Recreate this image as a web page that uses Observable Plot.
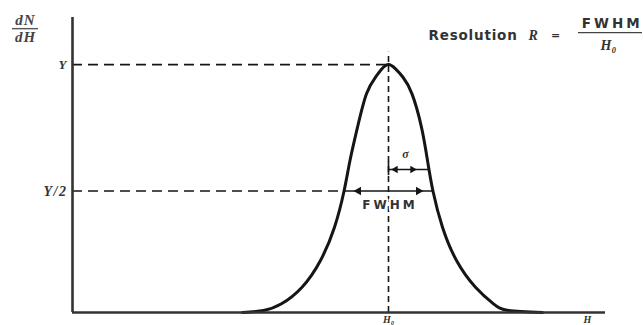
<!DOCTYPE html>
<html>
<head>
<meta charset="utf-8">
<script src="https://cdn.jsdelivr.net/npm/d3@7"></script>
<script src="https://cdn.jsdelivr.net/npm/@observablehq/plot@0.6"></script>
<style>
  html, body { margin: 0; padding: 0; background: white; }
  svg { overflow: visible; }
</style>
</head>
<body>
<div id="chart"></div>
<script>
// Pulse-height distribution (H in arbitrary channel units, dN/dH relative to peak Y)
const H    = [170, 191, 209, 229.5, 248, 262, 271.5, 277.5, 285, 294, 303, 309.5, 316, 323, 330.5, 339.5, 349, 355, 360.5, 370, 384, 403, 421, 436, 470];
const dNdH = [0, 0.008, 0.035, 0.102, 0.21, 0.344, 0.489, 0.613, 0.747, 0.882, 0.949, 0.983, 1.0, 0.983, 0.949, 0.882, 0.747, 0.613, 0.489, 0.344, 0.21, 0.102, 0.035, 0.008, 0];

const H0 = 316;          // peak centroid
const Hmax = 533;        // end of H axis
const yMax = 1.19;       // top of dN/dH axis
const peakY = 1.0;       // Y
const halfY = 0.49;      // Y/2 level as drawn
const fwhmLeft = 271.5, fwhmRight = 360.5;   // half-maximum crossings
const sigmaLevel = 0.577, sigmaRight = 356.5;

const curve = H.map((h, i) => ({H: h, v: dNdH[i]}));

const ink = "#151515";
const serif = "'Liberation Serif', 'DejaVu Serif', serif";
const sans = "'DejaVu Sans', sans-serif";

const chart = Plot.plot({
  width: 643,
  height: 325,
  marginLeft: 72,
  marginRight: 38,
  marginTop: 17,
  marginBottom: 13,
  x: {domain: [0, Hmax], axis: null},
  y: {domain: [0, yMax], axis: null},
  style: {background: "white", overflow: "visible"},
  marks: [
    // dashed guide lines
    Plot.ruleY([peakY], {x1: 0, x2: H0, stroke: ink, strokeWidth: 1.6, strokeDasharray: "10,6"}),
    Plot.ruleY([halfY], {x1: 0, x2: fwhmLeft, stroke: ink, strokeWidth: 1.6, strokeDasharray: "10,6"}),
    Plot.ruleX([H0], {y1: 0, y2: 1.05, stroke: ink, strokeWidth: 1.6, strokeDasharray: "6,4"}),
    // peak
    Plot.line(curve, {x: "H", y: "v", curve: "natural", stroke: ink, strokeWidth: 3}),
    // axes
    Plot.ruleX([0], {y1: 0, y2: yMax, stroke: "#333", strokeWidth: 2.6}),
    Plot.ruleY([0], {x1: 0, x2: Hmax, stroke: "#333", strokeWidth: 2.6}),
    // FWHM dimension line
    Plot.ruleY([halfY], {x1: fwhmLeft, x2: fwhmRight, stroke: ink, strokeWidth: 1.6}),
    Plot.dot([{H: 286, r: -90}, {H: 346, r: 90}], {x: "H", y: halfY, symbol: "triangle", r: 3.2, fill: ink, stroke: null, rotate: "r"}),
    // sigma dimension line
    Plot.ruleY([sigmaLevel], {x1: H0, x2: sigmaRight, stroke: ink, strokeWidth: 1.6}),
    Plot.ruleX([H0], {y1: sigmaLevel - 0.025, y2: sigmaLevel + 0.03, stroke: ink, strokeWidth: 1.6}),
    Plot.dot([{H: 323, r: -90}, {H: 340, r: 90}], {x: "H", y: sigmaLevel, symbol: "triangle", r: 2.8, fill: ink, stroke: null, rotate: "r"}),
    Plot.text(["σ"], {x: 333, y: 0.64, text: d => d, fontFamily: serif, fontStyle: "italic", fontWeight: "bold", fontSize: 12, fill: "#333"}),
    Plot.text(["FWHM"], {x: H0, y: 0.432, dx: 1.5, text: d => d, fontFamily: sans, fontWeight: "bold", fontSize: 12, fill: "#333", stroke: "white", strokeWidth: 4}),
    // axis labels
    Plot.text(["dN"], {x: -47, y: 1.159, text: d => d, lineAnchor: "bottom", fontFamily: serif, fontStyle: "italic", fontWeight: "bold", fontSize: 15, fill: "#444"}),
    Plot.ruleY([1.145], {x1: -60, x2: -34, stroke: "#555", strokeWidth: 1.4}),
    Plot.text(["dH"], {x: -47, y: 1.135, text: d => d, lineAnchor: "top", fontFamily: serif, fontStyle: "italic", fontWeight: "bold", fontSize: 15, fill: "#444"}),
    Plot.text(["Y"], {x: -6, y: peakY, text: d => d, textAnchor: "end", fontFamily: serif, fontStyle: "italic", fontWeight: "bold", fontSize: 13, fill: "#333"}),
    Plot.text(["Y/2"], {x: -5, y: halfY, text: d => d, textAnchor: "end", fontFamily: serif, fontStyle: "italic", fontWeight: "bold", fontSize: 14, fill: "#333"}),
    Plot.text(["H₀"], {x: H0, y: -0.012, text: d => d, lineAnchor: "top", fontFamily: serif, fontStyle: "italic", fontWeight: "bold", fontSize: 10, fill: "#333"}),
    Plot.text(["H"], {x: 515, y: -0.012, text: d => d, lineAnchor: "top", fontFamily: serif, fontStyle: "italic", fontWeight: "bold", fontSize: 10, fill: "#333"}),
    // resolution formula
    Plot.text(["Resolution"], {x: 356, y: 1.117, text: d => d, textAnchor: "start", fontFamily: sans, fontWeight: "bold", fontSize: 13.5, fill: "#333"}),
    Plot.text(["R"], {x: 456, y: 1.117, text: d => d, textAnchor: "start", fontFamily: serif, fontStyle: "italic", fontWeight: "bold", fontSize: 14, fill: "#333"}),
    Plot.text(["="], {x: 483, y: 1.117, text: d => d, fontFamily: sans, fontWeight: "bold", fontSize: 11, fill: "#333"}),
    Plot.text(["FWHM"], {x: 538, y: 1.165, dx: 1.75, text: d => d, fontFamily: sans, fontWeight: "bold", fontSize: 13.5, fill: "#333"}),
    Plot.ruleY([1.129], {x1: 506, x2: 570, stroke: "#444", strokeWidth: 1.3}),
    Plot.text(["H₀"], {x: 536, y: 1.077, text: d => d, fontFamily: serif, fontStyle: "italic", fontWeight: "bold", fontSize: 14, fill: "#333"})
  ]
});

// widen the spaced lettering of the original figure
const spacing = {"FWHM": 3, "Resolution": 0.8, "Y/2": 1.5, "dN": 1, "dH": 1};
d3.select(chart).selectAll("text").each(function () {
  const s = spacing[this.textContent];
  if (s) d3.select(this).attr("letter-spacing", s);
});

document.getElementById("chart").appendChild(chart);
</script>
</body>
</html>
